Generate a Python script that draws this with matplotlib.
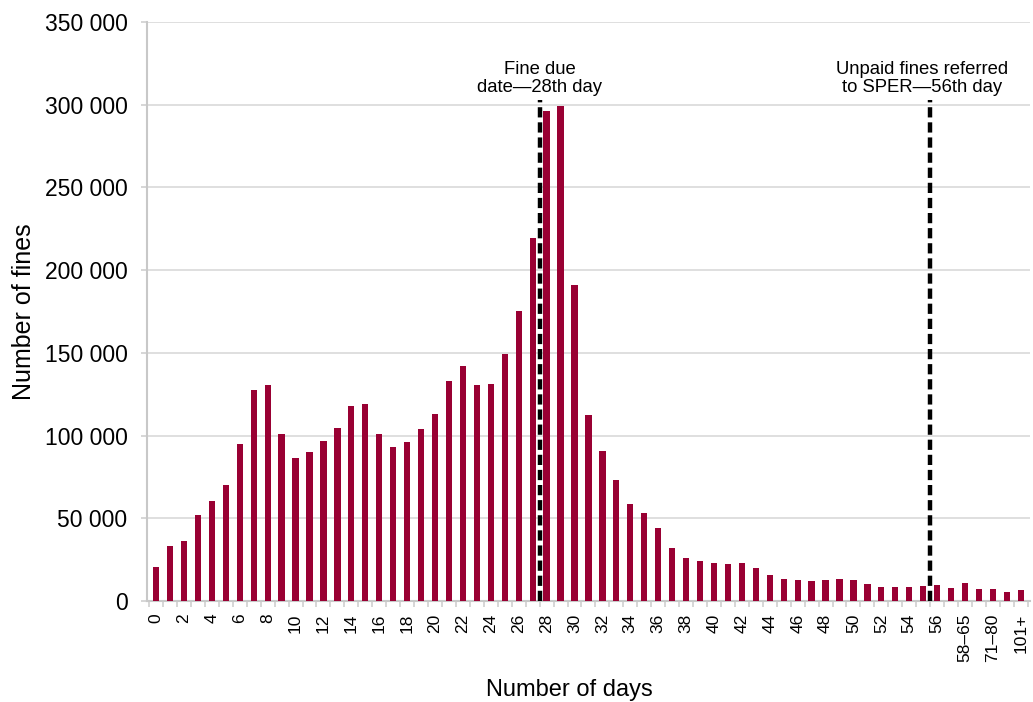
import matplotlib.pyplot as plt
from matplotlib.ticker import FuncFormatter

plt.rcParams['font.family'] = ['Liberation Sans', 'DejaVu Sans']

# === Data ===
categories = [str(d) for d in range(58)] + ['58–65', '66–70', '71–80', '81–100', '101+']
fines = [
    20800, 33100, 36500, 52100, 60200, 69900, 95000, 127600, 130600, 101000,
    86400, 89800, 96500, 104300, 117600, 118800, 100800, 93000, 96000, 103700,
    112900, 132800, 141900, 130700, 131300, 149500, 175500, 219700, 296400, 299400,
    191000, 112500, 90500, 73000, 58500, 53000, 44100, 31900, 25900, 24200,
    22800, 22400, 22800, 20200, 16000, 13300, 12700, 12100, 12500, 13300,
    12700, 10500, 8700, 8700, 8300, 8900, 9500, 8100, 11000, 7100,
    7300, 5200, 6400,
]
due_marker = 27.5
sper_marker = 55.5

# === Plot ===
fig, ax = plt.subplots(figsize=(10.33, 7.02), dpi=100)
fig.subplots_adjust(left=0.1423, right=0.997, top=0.9687, bottom=0.1439)

x = list(range(len(categories)))
ax.bar(x, fines, width=0.45, color='#990033', zorder=3)

ax.set_xlim(-0.65, len(categories) - 0.35)
ax.set_ylim(0, 350000)
ax.set_yticks(range(0, 350001, 50000))
ax.yaxis.set_major_formatter(FuncFormatter(lambda v, p: f"{int(v):,}".replace(',', ' ')))
ax.grid(axis='y', color='#d9d9d9', linewidth=1.2, zorder=0)

ax.set_xticks(x[::2])
ax.set_xticklabels(categories[::2], rotation=90)
ax.set_xticks([i - 0.5 for i in x] + [len(x) - 0.5], minor=True)
ax.tick_params(axis='x', which='major', length=0, labelsize=12.5, pad=9)
ax.tick_params(axis='x', which='minor', length=4, color='#d0d0d0', width=1.2)
ax.tick_params(axis='y', length=4, color='#d0d0d0', width=1.2, labelsize=16.5, pad=10)

for side in ['top', 'right']:
    ax.spines[side].set_visible(False)
for side in ['left', 'bottom']:
    ax.spines[side].set_color('#c8c8c8')
    ax.spines[side].set_linewidth(1.5)

# === Reference lines ===
line_top = 303000
ax.vlines([due_marker, sper_marker], 0, line_top, colors='black', linestyles=(0, (2.3, 1.1)),
          linewidth=3.2, zorder=4)
ax.text(due_marker, 305500, "Fine due\ndate—28th day", ha='center', va='bottom', fontsize=13.3,
        linespacing=1.05)
ax.text(sper_marker - 0.55, 305500, "Unpaid fines referred\nto SPER—56th day", ha='center',
        va='bottom', fontsize=13.3, linespacing=1.05)

ax.set_ylabel("Number of fines", fontsize=18, labelpad=6)
ax.set_xlabel("Number of days", fontsize=17, labelpad=12)
ax.xaxis.set_label_coords(0.478, -0.135)

plt.savefig("out.png", dpi=100)
